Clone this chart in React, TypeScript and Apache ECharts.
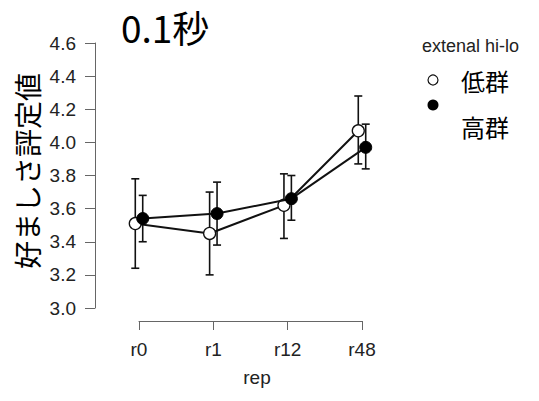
import React, { useEffect, useRef } from "react";
import * as echarts from "echarts";

const categories = ["r0", "r1", "r12", "r48"];
const groupNames = ["低群", "高群"];
const lowMean = [3.51, 3.45, 3.62, 4.07];
const lowLower = [3.24, 3.2, 3.42, 3.87];
const lowUpper = [3.78, 3.7, 3.81, 4.28];
const highMean = [3.54, 3.57, 3.66, 3.97];
const highLower = [3.4, 3.38, 3.53, 3.84];
const highUpper = [3.68, 3.76, 3.8, 4.11];
const yTicks = { min: 3.0, max: 4.6, interval: 0.2 };

const DODGE = 0.05;
const NUM_FONT = "'Liberation Sans', Arial, sans-serif";
const CJK_FONT = "'Noto Sans CJK JP', 'Noto Sans', sans-serif";

function errData(lo: number[], hi: number[], shift: number) {
  return lo.map((l, i) => [i + 1 + shift, l, hi[i]]);
}

function errRender(params: any, api: any) {
  const x = api.value(0);
  const top = api.coord([x, api.value(2)]);
  const bot = api.coord([x, api.value(1)]);
  const w = 4;
  const style = { stroke: "#111", lineWidth: 1.6 };
  return {
    type: "group",
    children: [
      { type: "line", shape: { x1: top[0], y1: top[1], x2: bot[0], y2: bot[1] }, style },
      { type: "line", shape: { x1: top[0] - w, y1: top[1], x2: top[0] + w, y2: top[1] }, style },
      { type: "line", shape: { x1: bot[0] - w, y1: bot[1], x2: bot[0] + w, y2: bot[1] }, style },
    ],
  };
}

export default function App() {
  const ref = useRef<HTMLDivElement>(null);
  useEffect(() => {
    document.body.style.margin = "0";
    if (!ref.current) return;
    const chart = echarts.init(ref.current, null, { renderer: "svg" });
    chart.setOption({
      animation: false,
      backgroundColor: "#fff",
      grid: { left: 139, right: 177, top: 43, bottom: 93 },
      xAxis: {
        type: "value",
        min: 1,
        max: 4,
        interval: 1,
        offset: 13,
        splitLine: { show: false },
        axisLine: { show: true, lineStyle: { color: "#666", width: 1 } },
        axisTick: { show: true, length: 9, lineStyle: { color: "#666" } },
        axisLabel: {
          margin: 19,
          fontSize: 19,
          fontFamily: NUM_FONT,
          color: "#222",
          formatter: (v: number) => categories[Math.round(v) - 1] ?? "",
        },
      },
      yAxis: {
        type: "value",
        min: yTicks.min,
        max: yTicks.max,
        interval: yTicks.interval,
        offset: 44,
        splitLine: { show: false },
        axisLine: { show: true, lineStyle: { color: "#666", width: 1 } },
        axisTick: { show: true, length: 10, lineStyle: { color: "#666" } },
        axisLabel: {
          margin: 19,
          fontSize: 19,
          fontFamily: NUM_FONT,
          color: "#222",
          formatter: (v: number) => v.toFixed(1),
        },
      },
      series: [
        {
          type: "custom",
          name: groupNames[0] + "err",
          renderItem: errRender,
          data: errData(lowLower, lowUpper, -DODGE),
          clip: false,
          encode: { x: 0, y: [1, 2] },
          z: 2,
        },
        {
          type: "custom",
          name: groupNames[1] + "err",
          renderItem: errRender,
          data: errData(highLower, highUpper, DODGE),
          clip: false,
          encode: { x: 0, y: [1, 2] },
          z: 2,
        },
        {
          type: "line",
          name: groupNames[0],
          data: lowMean.map((v, i) => [i + 1 - DODGE, v]),
          symbol: "circle",
          symbolSize: 12,
          showAllSymbol: true,
          clip: false,
          lineStyle: { color: "#111", width: 2 },
          itemStyle: { color: "#fff", borderColor: "#111", borderWidth: 1.3 },
          z: 3,
        },
        {
          type: "line",
          name: groupNames[1],
          data: highMean.map((v, i) => [i + 1 + DODGE, v]),
          symbol: "circle",
          symbolSize: 12,
          showAllSymbol: true,
          clip: false,
          lineStyle: { color: "#111", width: 2 },
          itemStyle: { color: "#000", borderColor: "#000", borderWidth: 1 },
          z: 4,
        },
      ],
      graphic: [
        {
          type: "text",
          left: 121,
          top: 8,
          style: { text: "0.1秒", fontSize: 37, fontFamily: CJK_FONT, fill: "#000" },
        },
        {
          type: "text",
          x: 27,
          y: 171,
          rotation: Math.PI / 2,
          style: {
            text: "好ましさ評定値",
            fontSize: 28,
            fontFamily: CJK_FONT,
            fill: "#000",
            align: "center",
            verticalAlign: "middle",
          },
        },
        {
          type: "text",
          x: 257,
          y: 377,
          style: {
            text: "rep",
            fontSize: 19,
            fontFamily: NUM_FONT,
            fill: "#222",
            align: "center",
            verticalAlign: "middle",
          },
        },
        {
          type: "text",
          x: 422,
          y: 46,
          style: {
            text: "extenal hi-lo",
            fontSize: 18,
            fontFamily: NUM_FONT,
            fill: "#222",
            verticalAlign: "middle",
          },
        },
        {
          type: "circle",
          shape: { cx: 433, cy: 80, r: 5 },
          style: { fill: "#fff", stroke: "#111", lineWidth: 1.2 },
        },
        {
          type: "text",
          x: 461,
          y: 80,
          style: {
            text: groupNames[0],
            fontSize: 24,
            fontFamily: CJK_FONT,
            fill: "#000",
            verticalAlign: "middle",
          },
        },
        {
          type: "circle",
          shape: { cx: 433, cy: 105, r: 5.5 },
          style: { fill: "#000" },
        },
        {
          type: "text",
          x: 461,
          y: 126,
          style: {
            text: groupNames[1],
            fontSize: 24,
            fontFamily: CJK_FONT,
            fill: "#000",
            verticalAlign: "middle",
          },
        },
      ],
    });
    return () => chart.dispose();
  }, []);
  return <div ref={ref} style={{ width: 539, height: 401 }} />;
}
